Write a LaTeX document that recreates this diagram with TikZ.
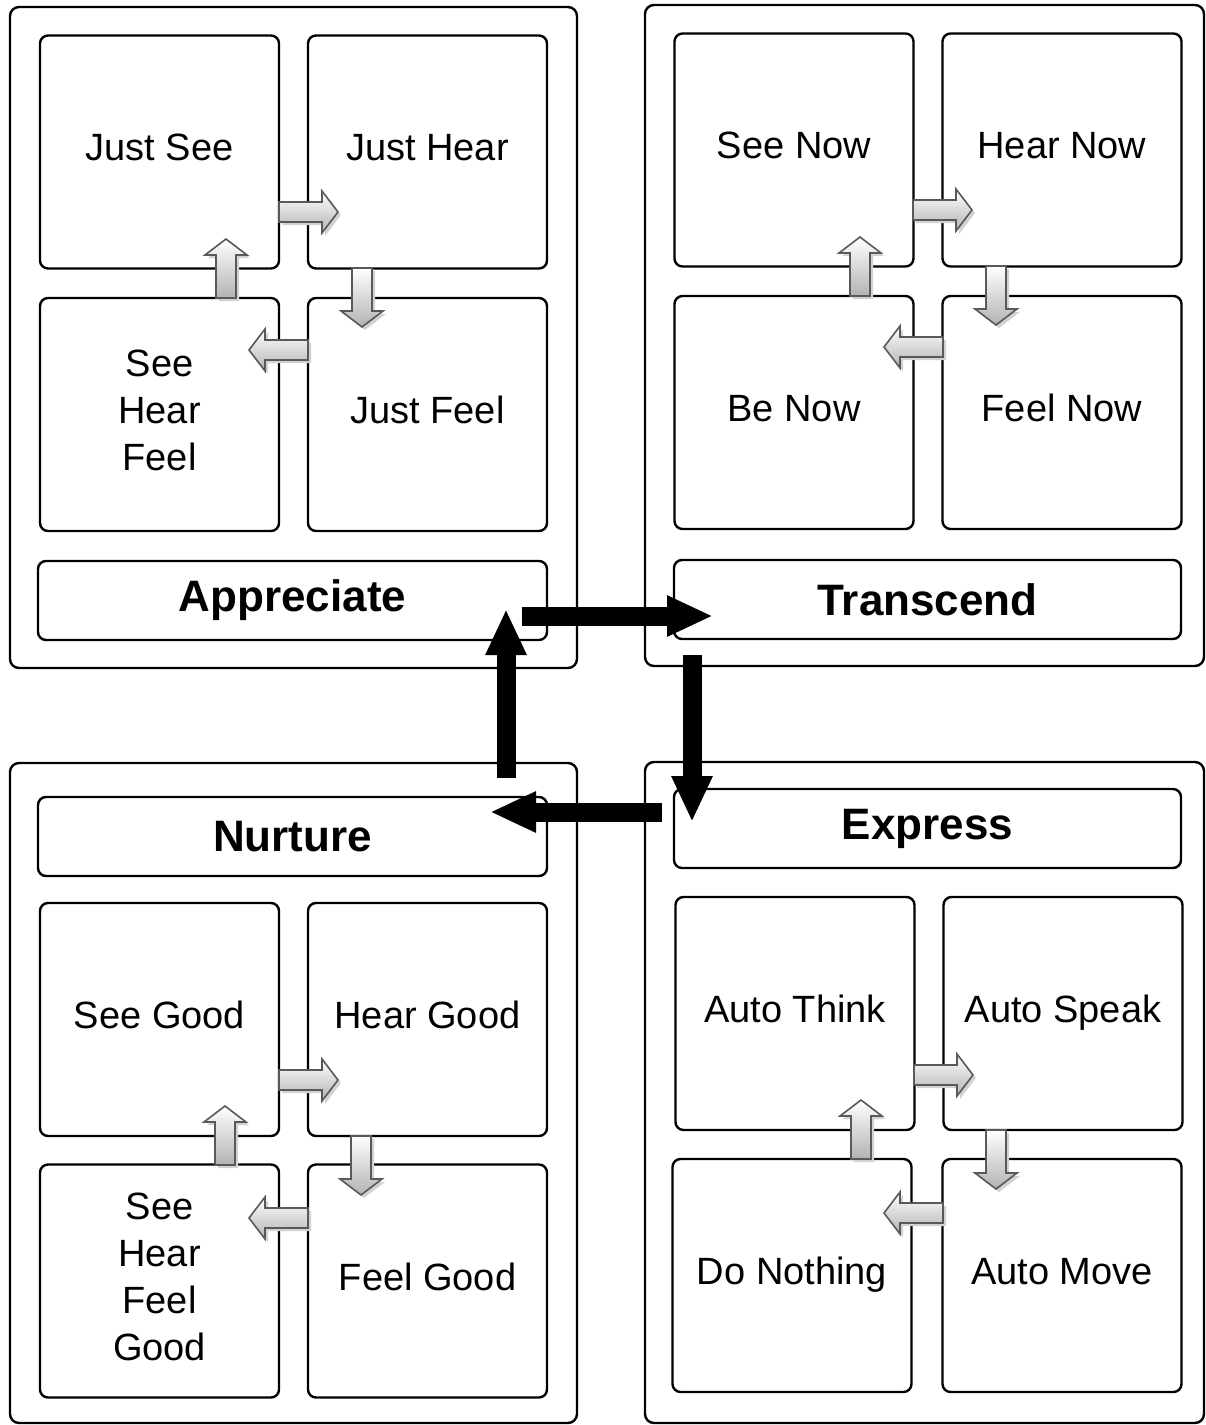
\documentclass[tikz,border=0pt]{standalone}
\usepackage{fontspec}
\setmainfont{Liberation Sans}
\usetikzlibrary{arrows.meta}
\tikzset{
  group/.style={draw, line width=2.4pt, rounded corners=9pt, inner sep=0pt},
  cell/.style={draw, line width=2.4pt, rounded corners=8pt, inner sep=0pt, align=center,
    minimum width=239pt, minimum height=233pt, text depth=9pt, font=\fontsize{38}{47}\selectfont},
  titlebox/.style={draw, line width=2.4pt, rounded corners=8pt, inner sep=0pt,
    minimum height=79pt, font=\bfseries\fontsize{44}{50}\selectfont},
  bigarrow/.style={line width=19pt, -{Triangle[length=46pt,width=38pt]}},
  garrowbody/.style={draw=gray!70!black, line width=1.6pt, line join=miter,
    top color=white, bottom color=gray!60},
  garrowshadow/.style={fill=gray!35, draw=none}
}
\newcommand\garrow[3]{%
  \begin{scope}[shift={(#1+3,#2+3)}, rotate=#3]
    \path[garrowshadow] (0,-10) -- (43,-10) -- (43,-21) -- (59,0) -- (43,21) -- (43,10) -- (0,10) -- cycle;
  \end{scope}
  \begin{scope}[shift={(#1,#2)}, rotate=#3]
    \path[garrowbody] (0,-10) -- (43,-10) -- (43,-21) -- (59,0) -- (43,21) -- (43,10) -- (0,10) -- cycle;
  \end{scope}}
\begin{document}
\begin{tikzpicture}[x=1pt,y=-1pt]
\useasboundingbox (0,0) rectangle (1206,1425);
% groups
\node[group, minimum width=567pt, minimum height=661pt] (gA) at (293.5,337.5) {};
\node[group, minimum width=559pt, minimum height=661pt] (gT) at (924.5,335.5) {};
\node[group, minimum width=567pt, minimum height=660pt] (gN) at (293.5,1093) {};
\node[group, minimum width=559pt, minimum height=661pt] (gE) at (924.5,1092.5) {};
% Appreciate
\node[cell] (a1) at (159.5,152) {Just See};
\node[cell] (a2) at (427.5,152) {Just Hear};
\node[cell] (a3) at (159.5,414.5) {See\\Hear\\Feel};
\node[cell] (a4) at (427.5,414.5) {Just Feel};
\node[titlebox, minimum width=509pt] (tA) at (292.5,600.5) {Appreciate};
% Transcend
\node[cell] (t1) at (794,150) {See Now};
\node[cell] (t2) at (1062,150) {Hear Now};
\node[cell] (t3) at (794,412.5) {Be Now};
\node[cell] (t4) at (1062,412.5) {Feel Now};
\node[titlebox, minimum width=507pt] (tT) at (927.5,599.5) {Transcend};
% Nurture
\node[titlebox, minimum width=509pt] (tN) at (292.5,836.5) {Nurture};
\node[cell] (n1) at (159.5,1019.5) {See Good};
\node[cell] (n2) at (427.5,1019.5) {Hear Good};
\node[cell] (n3) at (159.5,1281) {See\\Hear\\Feel\\Good};
\node[cell] (n4) at (427.5,1281) {Feel Good};
% Express
\node[titlebox, minimum width=507pt] (tE) at (927.5,828.5) {Express};
\node[cell] (e1) at (795,1013.5) {Auto Think};
\node[cell] (e2) at (1063,1013.5) {Auto Speak};
\node[cell] (e3) at (792,1275.5) {Do Nothing};
\node[cell] (e4) at (1062,1275.5) {Auto Move};
% small gray arrows
\garrow{279}{212}{0}
\garrow{362}{268}{-90}
\garrow{308}{350}{180}
\garrow{226}{298}{90}
\garrow{913}{210}{0}
\garrow{996}{266}{-90}
\garrow{943}{347}{180}
\garrow{860}{296}{90}
\garrow{279}{1080}{0}
\garrow{361}{1136}{-90}
\garrow{308}{1218}{180}
\garrow{225}{1165}{90}
\garrow{914}{1075}{0}
\garrow{996}{1130}{-90}
\garrow{943}{1213}{180}
\garrow{861}{1159}{90}
% big black cycle arrows
\coordinate (r1) at (522,616);
\coordinate (r2) at (713,616);
\coordinate (d1) at (692,655);
\coordinate (d2) at (692,822);
\coordinate (l1) at (662,812);
\coordinate (l2) at (490,812);
\coordinate (u1) at (506,778);
\coordinate (u2) at (506,609);
\draw[bigarrow] (r1) -- (r2);
\draw[bigarrow] (d1) -- (d2);
\draw[bigarrow] (l1) -- (l2);
\draw[bigarrow] (u1) -- (u2);
\end{tikzpicture}
\end{document}
